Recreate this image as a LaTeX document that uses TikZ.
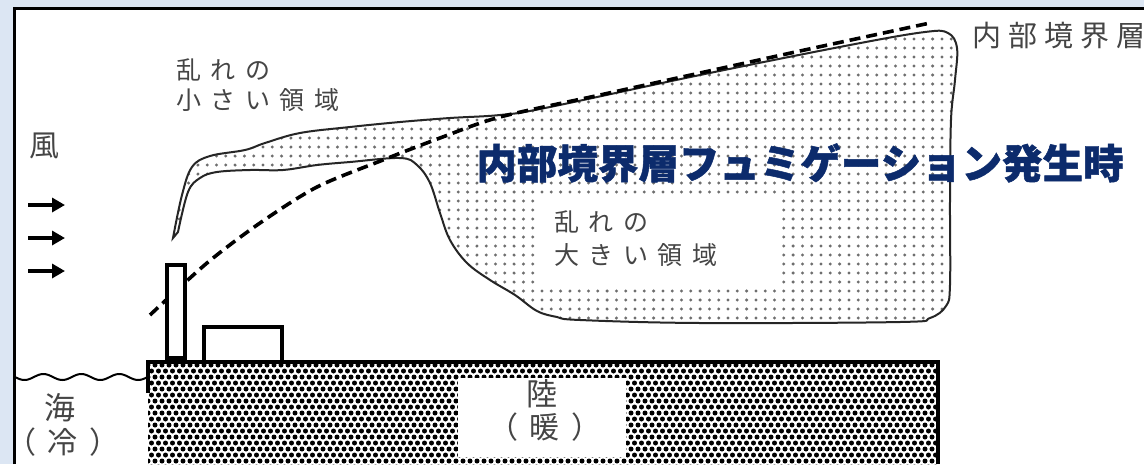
\documentclass[tikz,border=0pt]{standalone}
\usepackage{fontspec}
\newfontfamily\jp{Noto Sans CJK JP}
\newfontfamily\jpwide[LetterSpace=38]{Noto Sans CJK JP}
\newfontfamily\jpmid[LetterSpace=24]{Noto Sans CJK JP}
\usetikzlibrary{arrows.meta}
\definecolor{bgblue}{HTML}{DCE6F3}
\definecolor{navy}{HTML}{0C2B6C}
\definecolor{inkgray}{HTML}{454545}
\definecolor{dotgray}{HTML}{6E6E6E}
\def\pdot{circle (1.65pt)}
\def\ldot{circle (2.5pt)}
\def\plume{plot[smooth, tension=0.6] coordinates {(173,238) (182,195) (192,167)
    (210,156) (245,150) (265,143) (300,133) (350,127) (400,122) (450,118)
    (500,115) (545,108) (700,75) (850,45) (925,32) (948,33) (957,48) (955,80)
    (951,120) (950,200) (950,285) (946,306) (930,318) (900,322) (700,323)
    (580,320) (557,317) (537,311) (515,295) (490,280) (467,263) (450,240)
    (440,213) (430,183) (417,165) (400,158) (350,162) (317,165) (283,170)
    (250,170) (217,172) (200,178) (188,192) (178,232)} -- cycle}
\tikzset{
  graytxt/.style={text=inkgray, inner sep=0pt},
  wall/.style={draw=black, line width=3.4pt, fill=white},
  outline/.style={draw=black!85, line width=2pt},
  ibl/.style={line width=3.6pt, dash pattern=on 11pt off 6pt},
  wind/.style={line width=3.4pt, -{Triangle[length=13pt,width=14pt]}}
}
\begin{document}
\begin{tikzpicture}[x=1pt, y=-1pt]
  \useasboundingbox (0,0) rectangle (1144,464);
  % frame
  \fill[bgblue] (0,0) rectangle (1144,464);
  \fill[white] (14,8) rectangle (1144,464);
  \draw[line width=3pt] (14,464) -- (14,8) -- (1144,8);
  % plume
  \begin{scope}
    \clip \plume;
    \fill[dotgray] \foreach \i in {0,...,85} {\foreach \j in {0,...,33} {(170+9.3*\i, 30+9*\j) \pdot}};
  \end{scope}
  \fill[white] (535,197) rectangle (782,284);
  \draw[outline] \plume;
  % land
  \begin{scope}
    \clip (148,362) rectangle (938,466);
    \fill \foreach \j in {0,...,17} {\foreach \i in {0,...,114} {({148+7*\i+3.5*mod(\j,2)}, {365+6*\j}) \ldot}};
  \end{scope}
  \fill[white] (458,378) rectangle (626,457);
  \draw[line width=4pt] (148,393) -- (148,362) -- (938,362) -- (938,464);
  % sea
  \draw[line width=2pt] plot[domain=15:147, samples=90, smooth] (\x, {377+3*sin((\x-15)*9.5)});
  % boundary, stack, building
  \draw[ibl] plot[smooth] coordinates {(150,315) (207,263) (260,223) (317,187)
    (383,160) (440,138) (500,117) (600,95) (700,73) (800,51) (930,23)};
  \draw[wall] (167,265) rectangle (185,358);
  \draw[wall] (204,327) rectangle (282,362);
  % wind
  \foreach \y in {205,238,271} \draw[wind] (28,\y) -- (65,\y);
  % texts
  \node[graytxt, font=\jp\fontsize{30}{30}\selectfont] (wind) at (44,146) {風};
  \node[graytxt, font=\jpwide\fontsize{25}{25}\selectfont, anchor=west] (weak1) at (176,70) {乱れの};
  \node[graytxt, font=\jpwide\fontsize{25}{25}\selectfont, anchor=west] (weak2) at (176,100) {小さい領域};
  \node[graytxt, font=\jpwide\fontsize{25}{25}\selectfont, anchor=west] (strong1) at (554,222) {乱れの};
  \node[graytxt, font=\jpwide\fontsize{25}{25}\selectfont, anchor=west] (strong2) at (554,255) {大きい領域};
  \node[graytxt, font=\jpmid\fontsize{29}{29}\selectfont, anchor=west] (iblname) at (972,36) {内部境界層};
  \node[graytxt, font=\jp\fontsize{31}{31}\selectfont] (sea) at (60,408) {海};
  \node[graytxt, font=\jpwide\fontsize{30}{30}\selectfont] (seacold) at (63,442) {（冷）};
  \node[graytxt, font=\jp\fontsize{31}{31}\selectfont] (land) at (542,394) {陸};
  \node[graytxt, font=\jpwide\fontsize{30}{30}\selectfont] (landwarm) at (545,427) {（暖）};
  \node[font=\jp\bfseries\addfontfeature{FakeBold=1.2}\fontsize{40.5}{44}\selectfont, text=navy, inner sep=0pt] (title) at (800,163) {内部境界層フュミゲーション発生時};
\end{tikzpicture}
\end{document}
